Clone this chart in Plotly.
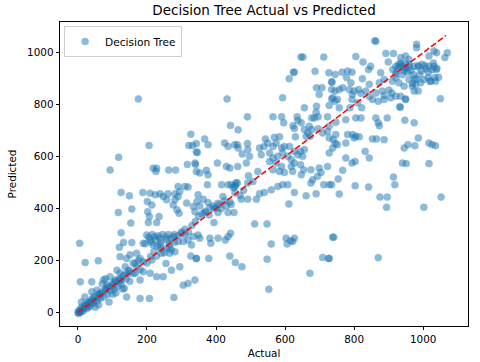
import plotly.graph_objects as go

# (actual, predicted) pairs, grouped by area of the plot
upper_left = [
    (175, 822), (327, 686), (206, 643), (321, 643), (332, 643), (343, 618), (118, 597), (317, 570),
    (341, 570), (93, 548), (218, 555), (228, 555), (226, 543), (263, 548), (283, 548),
]
upper_mid = [
    (646, 983), (652, 983), (712, 983), (624, 925), (627, 925), (687, 928), (612, 900), (735, 887),
    (691, 865), (707, 865), (699, 839), (735, 858), (432, 822), (593, 826), (735, 822), (691, 794),
    (656, 788), (690, 771), (696, 753), (685, 749), (491, 753), (565, 753), (590, 753), (596, 730),
    (635, 753), (637, 739), (677, 749), (723, 753), (442, 720), (464, 703), (623, 719), (627, 708),
    (647, 730), (656, 704), (670, 717), (677, 704), (696, 707), (709, 691), (723, 697), (666, 691),
    (673, 678), (661, 678), (630, 676), (543, 668), (569, 674), (584, 676), (367, 668), (377, 646),
    (343, 650), (425, 652), (435, 639), (454, 646), (462, 646), (464, 633), (491, 650), (492, 627),
    (539, 639), (550, 652), (565, 639), (574, 652), (590, 633), (598, 639), (613, 639), (627, 620),
    (645, 620), (656, 627), (346, 616), (339, 575), (476, 610), (497, 601), (526, 633), (531, 607),
    (555, 614), (565, 595), (579, 601), (593, 614), (608, 601), (618, 588), (637, 607), (651, 601),
    (555, 581), (574, 575), (590, 562), (618, 562), (627, 575), (645, 569), (404, 575), (430, 562),
    (440, 556), (463, 562), (488, 575), (372, 547), (343, 543), (584, 543), (598, 539), (675, 549),
    (699, 556), (704, 539), (723, 562),
]
upper_right = [
    (860, 1046), (863, 1044), (981, 1032), (981, 1019), (892, 997), (914, 997), (1031, 1006),
    (1039, 1000), (1017, 987), (1070, 1000), (1063, 981), (949, 987), (959, 974), (935, 981),
    (805, 985), (826, 964), (842, 935), (848, 948), (899, 964), (921, 948), (930, 955), (945, 942),
    (959, 955), (974, 948), (986, 951), (997, 955), (1007, 938), (1017, 948), (1031, 948),
    (1026, 935), (1038, 935), (765, 925), (781, 929), (794, 925), (745, 916), (727, 923),
    (778, 904), (791, 884), (736, 887), (757, 858), (745, 852), (767, 865),
    (824, 900), (844, 878), (873, 884), (877, 923), (887, 897), (911, 890), (921, 904), (930, 884),
    (945, 871), (959, 897), (969, 881), (981, 897), (993, 884), (1002, 897), (1015, 904),
    (1022, 890), (1036, 890), (1034, 904),
    (786, 858), (795, 839), (800, 852), (813, 858), (820, 843), (834, 852), (844, 832), (863, 845),
    (882, 852), (887, 835), (901, 856), (909, 845),
    (853, 820), (870, 813), (887, 820), (906, 826), (921, 832), (935, 832), (949, 822), (969, 871),
    (974, 852), (986, 852), (978, 878),
    (1050, 823), (738, 826), (757, 788), (745, 813), (788, 788), (822, 788), (810, 807), (794, 820),
    (932, 792), (934, 790), (949, 820), (728, 797), (752, 820),
    (805, 749), (820, 749), (776, 742), (863, 749), (873, 719), (870, 730), (896, 749), (947, 740),
    (974, 730), (986, 672), (747, 732), (728, 717),
    (781, 685), (796, 685), (805, 678), (815, 676), (800, 672), (747, 685), (728, 672), (740, 665),
    (752, 646), (738, 633), (745, 650),
    (776, 652), (853, 668), (865, 668), (887, 665), (956, 646), (945, 633), (976, 642), (1017, 652),
    (1026, 646), (1036, 642),
    (832, 620), (844, 595), (728, 614), (776, 595), (794, 575), (803, 581), (767, 547), (940, 575),
    (951, 573), (1017, 573),
    (930, 945), (938, 952), (945, 930), (950, 940), (955, 925), (940, 915), (925, 930), (960, 945),
    (935, 960), (948, 958), (965, 930), (972, 915), (985, 945), (995, 930), (1005, 950),
    (1015, 925), (1030, 960), (1040, 940), (1045, 905), (1020, 890), (975, 900), (990, 915),
    (912, 935), (920, 918),
]
lower_right = [
    (754, 514), (728, 492), (757, 456), (803, 488), (842, 483), (914, 521), (918, 492), (875, 444),
    (896, 444), (894, 405), (1002, 405), (1052, 444), (741, 290), (728, 208), (870, 211),
]
lower_mid = [
    (353, 537), (377, 530), (375, 492), (416, 492), (435, 492), (444, 492), (454, 485), (462, 498),
    (494, 526), (492, 498), (507, 504), (521, 543), (565, 549), (622, 543), (647, 530), (654, 549),
    (675, 498), (680, 511), (712, 492), (735, 492), (694, 524), (450, 480), (458, 500), (456, 490),
    (473, 436), (492, 436), (517, 436), (526, 457), (540, 462), (560, 472), (579, 485), (593, 492),
    (608, 492), (627, 462), (661, 449), (690, 457), (611, 418),
    (348, 453), (363, 436), (377, 423), (382, 403), (391, 410), (401, 403), (411, 416), (420, 446),
    (430, 410), (444, 416), (452, 385), (435, 385), (406, 385), (367, 385), (353, 410),
    (394, 346), (512, 341), (548, 341),
    (348, 298), (353, 286), (382, 286), (385, 266), (406, 286), (427, 279), (435, 292), (442, 305),
    (560, 264), (603, 286), (606, 264), (622, 273), (627, 286), (616, 276), (738, 290),
    (343, 208), (379, 208), (440, 217), (456, 192), (475, 176), (548, 205), (709, 212), (726, 208),
    (672, 151), (553, 89), (339, 125),
]
lower_left = [
    (125, 462), (149, 449), (188, 462), (209, 459), (224, 453), (238, 457), (247, 446), (261, 457),
    (281, 457), (290, 485), (310, 485), (319, 483), (295, 466), (290, 446),
    (201, 427), (214, 414), (202, 388), (207, 369), (235, 369), (228, 346), (204, 346), (257, 434),
    (281, 434), (276, 414), (287, 395), (293, 382), (315, 421), (334, 408), (339, 388), (345, 427),
    (117, 385), (156, 398), (153, 344), (125, 307), (132, 269), (120, 251), (156, 269),
    (5, 266), (21, 192), (59, 199), (7, 118), (40, 118),
    (180, 54), (207, 54), (278, 58), (305, 105), (319, 112), (327, 217), (343, 208), (141, 60),
    (134, 93),
    (180, 125), (166, 151), (189, 157), (209, 151), (228, 138), (247, 138), (271, 163), (255, 189),
    (295, 176), (242, 228), (266, 228), (281, 234), (228, 217), (214, 202), (180, 208), (170, 228),
    (151, 222), (122, 215), (141, 208), (166, 189), (137, 176), (113, 163), (122, 151), (146, 163),
    (93, 138), (108, 125), (74, 125), (84, 105), (55, 86), (64, 73), (45, 60), (35, 41), (26, 28),
    (16, 15), (7, 2), (2, -4),
    (199, 298), (209, 279), (223, 292), (238, 286), (257, 279), (276, 292), (290, 273), (218, 260),
    (238, 260), (189, 266), (334, 292), (319, 279), (305, 273), (329, 260), (257, 247), (271, 241),
    (205, 290), (215, 300), (225, 280), (232, 295), (245, 300), (255, 290), (262, 300), (270, 285),
    (280, 300), (290, 295), (300, 305), (310, 300), (320, 310), (212, 270), (240, 270), (265, 265),
    (195, 265), (230, 255),
    (150, 160), (160, 150), (170, 175), (180, 165), (190, 195), (200, 190), (160, 190), (140, 130),
    (120, 120), (100, 100), (80, 85), (60, 60), (40, 40), (20, 22), (10, 8), (0, 0), (2, 5), (5, 0),
    (30, 35), (45, 45), (65, 70), (85, 95), (105, 115), (125, 125), (135, 145), (175, 200),
    (210, 215), (220, 235), (240, 245), (250, 230), (265, 250), (280, 270), (300, 310), (310, 320),
    (330, 335), (340, 350), (350, 370), (360, 380), (370, 390), (380, 375), (395, 400), (405, 420),
    (415, 400), (425, 430), (440, 425), (455, 460), (470, 450), (480, 470),
    (5, 10), (10, 20), (15, 5), (20, 30), (25, 15), (30, 40), (35, 25), (40, 50), (45, 35), (50, 60),
    (55, 45), (60, 70), (65, 55), (70, 80), (75, 60), (80, 90), (85, 70), (90, 100), (95, 85),
    (100, 110), (105, 90), (110, 120), (115, 100), (120, 130), (125, 110), (130, 140), (10, 40),
    (20, 60), (30, 20), (50, 20), (60, 30), (40, 80), (80, 130), (100, 70), (130, 90), (150, 120),
    (70, 110), (90, 40), (110, 75), (145, 150),
]

points = upper_left + upper_mid + upper_right + lower_right + lower_mid + lower_left
actual = [p[0] for p in points]
predicted = [p[1] for p in points]

ideal_min = 0
ideal_max = 1066

fig = go.Figure()
fig.add_trace(go.Scatter(
    x=actual, y=predicted, mode="markers", name="Decision Tree",
    marker=dict(size=7, color="#1f77b4", opacity=0.5, line=dict(width=0.6, color="#1f77b4")),
))
fig.add_trace(go.Scatter(
    x=[ideal_min, ideal_max], y=[ideal_min, ideal_max], mode="lines", showlegend=False,
    line=dict(color="red", width=1.5, dash="6px,2.5px"),
))

axis_style = dict(
    showline=True, mirror=True, linecolor="black", linewidth=0.8,
    ticks="outside", ticklen=3.5, tickwidth=0.8, tickcolor="black",
    showgrid=False, zeroline=False, automargin=False,
    tickfont=dict(size=10.4, color="black"),
    tickmode="array", tickvals=[0, 200, 400, 600, 800, 1000],
)

fig.update_layout(
    width=480, height=362,
    margin=dict(l=60, r=12, t=22, b=36),
    paper_bgcolor="white", plot_bgcolor="white",
    font=dict(family="DejaVu Sans", color="black"),
    title=dict(text="Decision Tree Actual vs Predicted", x=0.5, xref="paper", automargin=False,
               y=0.972, yref="container", yanchor="middle", font=dict(size=13.5)),
    legend=dict(x=0.01, y=0.987, xanchor="left", yanchor="top", itemwidth=30,
                bordercolor="#d0d0d0", borderwidth=1, bgcolor="rgba(255,255,255,0.8)",
                font=dict(size=10.6)),
    xaxis=dict(range=[-52, 1130], title=dict(text="Actual", font=dict(size=10.4), standoff=5), **axis_style),
    yaxis=dict(range=[-52, 1118], title=dict(text="Predicted", font=dict(size=10.4), standoff=8), **axis_style),
)

# drop the browser's default 8px body margin so the figure sits at the page corner
fig.write_html("out.html", config={"displayModeBar": False},
               post_script="document.body.style.margin='0';")
